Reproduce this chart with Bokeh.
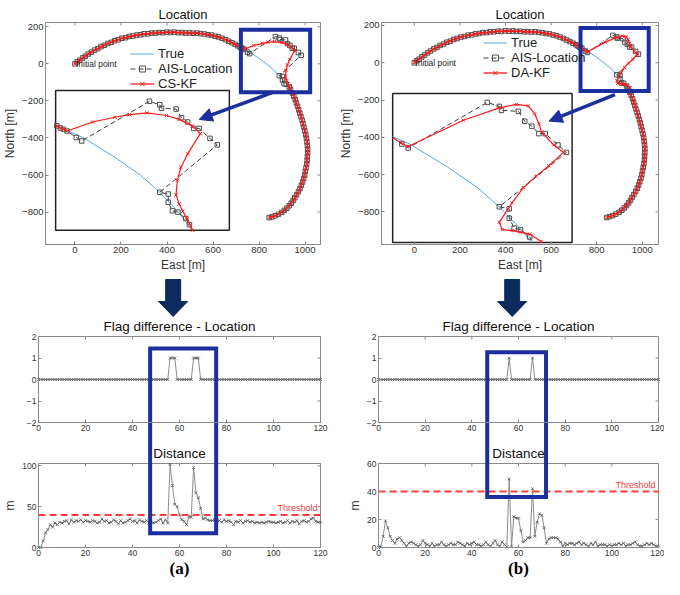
from bokeh.plotting import figure
from bokeh.layouts import column, row
from bokeh.models import (Range1d, FixedTicker, LinearAxis, Legend, LegendItem, Label,
                          Arrow, NormalHead)
from bokeh.embed import file_html
from bokeh.resources import INLINE

# ---------------------------------------------------------------- data
# True trajectory [m]
true_east = [0, 71, 173, 268, 415, 546, 654, 716, 761, 814, 856, 888, 920, 942, 967, 991,
             1010, 1004, 978, 931, 884, 844]
true_north = [0, 63, 125, 154, 170, 164, 130, 91, 63, 17, -24, -64, -112, -152, -229, -323,
              -441, -561, -673, -766, -812, -830]

# first arc (AIS and both filters lie on it)
track1_east = [0, 10, 21, 33, 45, 58, 71, 85, 99, 113, 128, 143, 158, 173, 188, 204, 220, 236,
               252, 268, 284, 300, 317, 333, 349, 366, 382, 399, 415, 432, 448, 465, 481, 497,
               514, 530, 546, 562, 578, 593, 609, 624, 639, 654, 668, 682, 696, 708, 718, 724,
               729, 735]
track1_north = [0, 11, 19, 32, 41, 53, 63, 74, 82, 93, 100, 110, 116, 125, 130, 138, 141, 148,
                150, 155, 157, 162, 162, 166, 166, 169, 168, 171, 169, 171, 168, 169, 166, 167,
                165, 166, 163, 161, 157, 155, 149, 145, 138, 130, 122, 114, 105, 97, 90, 85,
                82, 78]
# AIS anomaly (shifted positions)
ais_jump_east = [750, 759, 871, 888, 891, 915, 924, 934, 944, 953, 971, 983]
ais_jump_north = [63, 55, 147, 139, 131, 129, 109, 99, 84, 84, 61, 46]
ais_return_east = [888, 902, 902, 909, 918, 931, 937]
ais_return_north = [-64, -68, -87, -107, -110, -125, -139]
# second arc
track3_east = [945, 951, 957, 962, 967, 972, 977, 982, 987, 991, 995, 999, 1003, 1006, 1008,
               1010, 1011, 1011, 1010, 1009, 1007, 1004, 1001, 998, 994, 989, 984, 978, 971,
               963, 955, 948, 940, 931, 921, 910, 898, 884, 870, 856, 844]
track3_north = [-158, -175, -193, -211, -229, -248, -266, -285, -304, -323, -343, -362, -382,
                -402, -421, -441, -461, -481, -501, -521, -541, -561, -580, -600, -619, -638,
                -656, -673, -690, -707, -723, -738, -752, -766, -779, -791, -802, -812, -820,
                -826, -830]
# CS-KF estimate in the anomaly
cskf_jump_east = [777, 814, 838, 867, 899, 920, 942, 955, 934, 923, 917, 915, 920, 926, 932,
                  937, 942]
cskf_jump_north = [99, 110, 116, 120, 114, 105, 90, 72, 25, -6, -36, -70, -91, -108, -123,
                   -137, -152]
# DA-KF estimate in the anomaly
dakf_jump_east = [749, 759, 837, 888, 912, 929, 938, 944, 948, 965, 979, 958, 940, 922, 906,
                  888, 892, 906, 917, 931, 947]
dakf_jump_north = [65, 58, 111, 136, 143, 140, 124, 104, 87, 61, 46, 19, -2, -25, -56, -95,
                   -110, -112, -115, -119, -134]

loc_x_ticks = [0, 200, 400, 600, 800, 1000]
loc_y_ticks = [-800, -600, -400, -200, 0, 200]

steps = list(range(121))
flag_cs = [0, 0, 0, 0, 0, 0, 0, 0, 0, 0, 0, 0, 0, 0, 0, 0, 0, 0, 0, 0,
           0, 0, 0, 0, 0, 0, 0, 0, 0, 0, 0, 0, 0, 0, 0, 0, 0, 0, 0, 0,
           0, 0, 0, 0, 0, 0, 0, 0, 0, 0, 0, 0, 0, 0, 0, 0, 1, 1, 1, 0,
           0, 0, 0, 0, 0, 0, 1, 1, 1, 0, 0, 0, 0, 0, 0, 0, 0, 0, 0, 0,
           0, 0, 0, 0, 0, 0, 0, 0, 0, 0, 0, 0, 0, 0, 0, 0, 0, 0, 0, 0,
           0, 0, 0, 0, 0, 0, 0, 0, 0, 0, 0, 0, 0, 0, 0, 0, 0, 0, 0, 0, 0]
flag_da = [0, 0, 0, 0, 0, 0, 0, 0, 0, 0, 0, 0, 0, 0, 0, 0, 0, 0, 0, 0,
           0, 0, 0, 0, 0, 0, 0, 0, 0, 0, 0, 0, 0, 0, 0, 0, 0, 0, 0, 0,
           0, 0, 0, 0, 0, 0, 0, 0, 0, 0, 0, 0, 0, 0, 0, 0, 1, 0, 0, 0,
           0, 0, 0, 0, 0, 0, 1, 0, 0, 0, 0, 0, 0, 0, 0, 0, 0, 0, 0, 0,
           0, 0, 0, 0, 0, 0, 0, 0, 0, 0, 0, 0, 0, 0, 0, 0, 0, 0, 0, 0,
           0, 0, 0, 0, 0, 0, 0, 0, 0, 0, 0, 0, 0, 0, 0, 0, 0, 0, 0, 0, 0]
dist_cs = [0, 0, 8, 18, 22, 28, 25, 30, 28, 31,
           30, 32, 33, 29, 34, 31, 33, 32, 34, 31,
           33, 32, 31, 33, 32, 30, 31, 35, 32, 33,
           30, 31, 34, 32, 29, 33, 30, 31, 33, 35,
           32, 33, 30, 34, 32, 31, 33, 30, 31, 30,
           31, 33, 35, 30, 34, 30, 102, 76, 53, 50,
           40, 34, 32, 28, 38, 37, 98, 67, 61, 48,
           35, 36, 34, 33, 33, 34, 32, 33, 31, 34,
           32, 33, 31, 28, 32, 31, 33, 30, 32, 33,
           31, 32, 30, 31, 30, 31, 30, 31, 32, 31,
           31, 30, 31, 32, 30, 31, 33, 30, 32, 31,
           33, 29, 32, 33, 31, 32, 35, 36, 32, 31, 31]
dist_da = [0, 0.5, 8, 19, 14, 8, 5, 3, 6, 7,
           5, 3, 1, 3, 4, 3, 2, 1, 2, 5,
           3, 2, 1, 3, 1, 2, 2, 4, 2, 1,
           2, 3, 2, 2, 4, 3, 2, 1, 3, 2,
           3, 4, 2, 2, 1, 2, 4, 2, 1, 3,
           5, 2, 1, 4, 2, 0.5, 49, 1, 22, 21,
           21, 12, 4, 5, 7, 7, 42, 8, 18, 24,
           23, 14, 3, 6, 7, 7, 7, 6, 4, 1,
           3, 2, 3, 3, 2, 3, 4, 2, 3, 2,
           1, 3, 2, 4, 1, 2, 2, 2, 1, 2,
           1, 2, 2, 3, 2, 3, 1, 2, 2, 3,
           4, 2, 1, 1, 2, 3, 2, 3, 2, 1, 1]
threshold = 40
step_ticks = [0, 20, 40, 60, 80, 100, 120]
flag_ticks = [-2, -1, 0, 1, 2]

ais_east = track1_east + ais_jump_east + ais_return_east + track3_east
ais_north = track1_north + ais_jump_north + ais_return_north + track3_north
cskf_east = track1_east + cskf_jump_east + track3_east
cskf_north = track1_north + cskf_jump_north + track3_north
dakf_east = track1_east + dakf_jump_east + track3_east
dakf_north = track1_north + dakf_jump_north + track3_north

# ---------------------------------------------------------------- style / layout
FONT = "Liberation Sans"
AX_COL = "#8a8a8a"
TXT = "#333333"
TRUE_COL = "#55a8e0"
AIS_COL = "#3a3a3a"
AIS_MARK = "#505050"
KF_COL = "#ff1a1a"
BOX_BLUE = "#1c2f9e"
NAVY = "#0e2b5e"
SER_LINE = "#8c8c8c"
SER_MARK = "#555555"
TICK = 3

W_L, W_R = 336, 328
BORD_L = (38, 16)      # left column: frame from 38 to 320
BORD_R = (42, 6)       # right column: frame from 42 to 322 (inside its figure)
H_TOP = 276
LOC_TOP, LOC_BOT = 22, 32
H_LOW = 303
FLAG_TOP, FLAG_BOT = 60, 146
DIST_TOP, DIST_BOT = 187, 271
FLAG_TITLE_Y = 50
DIST_TITLE_Y = 177
ARROW_TOP, ARROW_BASE, ARROW_TIP = 3, 25, 40


def style_axis(ax, ticks, fsize, label=None, lsize="12px"):
    ax.ticker = FixedTicker(ticks=ticks)
    ax.major_tick_in = TICK
    ax.major_tick_out = 0
    ax.minor_tick_line_color = None
    ax.axis_line_color = AX_COL
    ax.major_tick_line_color = AX_COL
    ax.major_label_text_font = FONT
    ax.major_label_text_font_size = fsize
    ax.major_label_text_color = TXT
    ax.major_label_standoff = 2
    ax.axis_label_standoff = 2
    ax.axis_label_text_font = FONT
    ax.axis_label_text_font_style = "normal"
    ax.axis_label_text_color = TXT
    ax.axis_label_text_font_size = lsize
    if label:
        ax.axis_label = label


def edge_ticks(p, xt, yt, xr, yr, fw, fh, **kw):
    """inward tick marks along the top and right edges of a panel"""
    dy = TICK * (yr[1] - yr[0]) / fh
    dx = TICK * (xr[1] - xr[0]) / fw
    p.segment(x0=xt, x1=xt, y0=[yr[1]] * len(xt), y1=[yr[1] - dy] * len(xt),
              line_color=AX_COL, line_width=1, **kw)
    p.segment(x0=[xr[1]] * len(yt), x1=[xr[1] - dx] * len(yt), y0=yt, y1=yt,
              line_color=AX_COL, line_width=1, **kw)


def clip_polyline(xs, ys, win):
    x0, x1, y0, y1 = win
    pieces, cx, cy = [], [], []
    for i in range(len(xs) - 1):
        ax, ay, bx, by = xs[i], ys[i], xs[i + 1], ys[i + 1]
        dx, dy = bx - ax, by - ay
        t0, t1 = 0.0, 1.0
        inside = True
        for pp, qq in ((-dx, ax - x0), (dx, x1 - ax), (-dy, ay - y0), (dy, y1 - ay)):
            if pp == 0:
                if qq < 0:
                    inside = False
                    break
            else:
                r = qq / pp
                if pp < 0:
                    if r > t1:
                        inside = False
                        break
                    t0 = max(t0, r)
                else:
                    if r < t0:
                        inside = False
                        break
                    t1 = min(t1, r)
        if not inside:
            if cx:
                pieces.append((cx, cy))
                cx, cy = [], []
            continue
        if not cx or t0 > 0:
            if cx:
                pieces.append((cx, cy))
            cx, cy = [ax + t0 * dx], [ay + t0 * dy]
        cx.append(ax + t1 * dx)
        cy.append(ay + t1 * dy)
        if t1 < 1:
            pieces.append((cx, cy))
            cx, cy = [], []
    if cx:
        pieces.append((cx, cy))
    return pieces


def to_box(xs, ys, win, box):
    wx0, wx1, wy0, wy1 = win
    bx0, bx1, by0, by1 = box
    sx = (bx1 - bx0) / (wx1 - wx0)
    sy = (by1 - by0) / (wy1 - wy0)
    return [bx0 + (x - wx0) * sx for x in xs], [by0 + (y - wy0) * sy for y in ys]


def location_fig(w, bord, xr, yr, kf_e, kf_n, kf_label, win, ibox, zbox, arr, leg_loc):
    p = figure(width=w, height=H_TOP, x_range=Range1d(*xr), y_range=Range1d(*yr),
               output_backend="svg", toolbar_location=None, tools="",
               min_border_left=bord[0], min_border_right=bord[1],
               min_border_top=LOC_TOP, min_border_bottom=LOC_BOT, title="Location")
    p.grid.visible = False
    p.outline_line_color = AX_COL
    p.title.text_font = FONT
    p.title.text_font_size = "13px"
    p.title.text_font_style = "normal"
    p.title.text_color = "#111111"
    p.title.align = "center"
    p.title.standoff = 1
    style_axis(p.xaxis[0], loc_x_ticks, "9.5px", "East [m]")
    style_axis(p.yaxis[0], loc_y_ticks, "9.5px", "North [m]")
    fw = w - bord[0] - bord[1]
    fh = H_TOP - LOC_TOP - LOC_BOT
    edge_ticks(p, loc_x_ticks, loc_y_ticks, xr, yr, fw, fh)

    r_true = p.line(true_east, true_north, line_color=TRUE_COL, line_width=1)
    r_ais_l = p.line(ais_east, ais_north, line_color=AIS_COL, line_dash="5 3", line_width=1)
    r_ais_s = p.scatter(ais_east, ais_north, marker="square", size=4.5, fill_color=None,
                        line_color=AIS_MARK, line_width=1)
    r_kf_l = p.line(kf_e, kf_n, line_color=KF_COL, line_width=1.3)
    r_kf_s = p.scatter(kf_e, kf_n, marker="x", size=4.5, line_color=KF_COL, line_width=1)

    p.add_layout(Label(x=0, y=0, text="Initial point", x_offset=1, text_baseline="middle",
                       text_font=FONT, text_font_size="8.5px", text_color="#222222"))

    # inset (zoom of the anomaly)
    p.quad(left=ibox[0], right=ibox[1], bottom=ibox[2], top=ibox[3], fill_color="white",
           line_color="#222222", line_width=1.5)
    series = [(true_east, true_north, dict(line_color=TRUE_COL, line_width=1), None),
              (ais_east, ais_north, dict(line_color=AIS_COL, line_dash="5 3", line_width=1),
               dict(marker="square", size=4.5, fill_color=None, line_color=AIS_MARK)),
              (kf_e, kf_n, dict(line_color=KF_COL, line_width=1.2),
               dict(marker="x", size=4.5, line_color=KF_COL))]
    for xs, ys, lkw, mkw in series:
        mx, my = [], []
        for px_, py_ in clip_polyline(xs, ys, win):
            tx, ty = to_box(px_, py_, win, ibox)
            mx.append(tx)
            my.append(ty)
        p.multi_line(mx, my, **lkw)
        if mkw:
            pts = [(x, y) for x, y in zip(xs, ys)
                   if win[0] <= x <= win[1] and win[2] <= y <= win[3]]
            tx, ty = to_box([a for a, b in pts], [b for a, b in pts], win, ibox)
            p.scatter(tx, ty, **mkw)

    # zoom box and arrow to the inset
    p.quad(left=zbox[0], right=zbox[1], bottom=zbox[2], top=zbox[3], fill_color=None,
           line_color=BOX_BLUE, line_width=4, line_join="miter")
    p.add_layout(Arrow(end=NormalHead(size=13, fill_color=BOX_BLUE, line_color=BOX_BLUE),
                       x_start=arr[0], y_start=arr[1], x_end=arr[2], y_end=arr[3],
                       line_color=BOX_BLUE, line_width=3.5))

    leg = Legend(items=[LegendItem(label="True", renderers=[r_true]),
                        LegendItem(label="AIS-Location", renderers=[r_ais_l, r_ais_s]),
                        LegendItem(label=kf_label, renderers=[r_kf_l, r_kf_s])],
                 location=leg_loc, border_line_alpha=0, background_fill_alpha=0,
                 label_text_font=FONT, label_text_font_size="13px", label_text_color="#222222",
                 glyph_width=24, glyph_height=15, label_height=15, spacing=0, padding=0,
                 margin=0, label_standoff=4)
    p.add_layout(leg)
    return p


def lower_fig(w, bord, flags, dist, ymax, yticks, box, thr_y, tag):
    left_px, right_px = bord[0], w - bord[1]
    s = (right_px - left_px) / 120.0
    xr = (-left_px / s, 120 + (w - right_px) / s)
    s_d = (DIST_BOT - DIST_TOP) / ymax
    yr = (-(H_LOW - DIST_BOT) / s_d, ymax + DIST_TOP / s_d)
    s_f = (FLAG_BOT - FLAG_TOP) / 4.0
    fr = (-2 - (H_LOW - FLAG_BOT) / s_f, 2 + FLAG_TOP / s_f)

    def fy(r):
        return 2 + (FLAG_TOP - r) / s_f

    p = figure(width=w, height=H_LOW, x_range=Range1d(*xr), y_range=Range1d(*yr),
               x_axis_type=None, y_axis_type=None, output_backend="svg",
               toolbar_location=None, tools="", min_border=0, title=None)
    p.extra_y_ranges = {"flag": Range1d(*fr)}
    p.outline_line_color = None

    # ---- flag panel
    ax = LinearAxis(y_range_name="flag", fixed_location=-2, bounds=(0, 120))
    style_axis(ax, step_ticks, "8.5px")
    p.add_layout(ax, "below")
    ax = LinearAxis(y_range_name="flag", fixed_location=0, bounds=(-2, 2))
    style_axis(ax, flag_ticks, "8.5px")
    p.add_layout(ax, "left")
    p.quad(left=0, right=120, bottom=-2, top=2, y_range_name="flag", fill_color=None,
           line_color=AX_COL, line_width=1)
    edge_ticks(p, step_ticks, flag_ticks, (0, 120), (-2, 2), right_px - left_px,
               FLAG_BOT - FLAG_TOP, y_range_name="flag")
    p.line(steps, flags, y_range_name="flag", line_color=SER_LINE, line_width=1)
    p.scatter(steps, flags, y_range_name="flag", marker="x", size=4, line_color=SER_MARK,
              line_width=0.8)
    p.add_layout(Label(x=60, y=fy(FLAG_TITLE_Y), y_range_name="flag",
                       text="Flag difference - Location", text_align="center",
                       text_baseline="middle", text_font=FONT, text_font_size="13.5px",
                       text_color="#111111"))

    # ---- distance panel
    ax = LinearAxis(fixed_location=0, bounds=(0, 120))
    style_axis(ax, step_ticks, "8.5px")
    ax.axis_label = tag
    ax.axis_label_text_font = "Liberation Serif"
    ax.axis_label_text_font_style = "bold"
    ax.axis_label_text_font_size = "17px"
    ax.axis_label_text_color = "#000000"
    ax.axis_label_standoff = 0
    p.add_layout(ax, "below")
    ax = LinearAxis(fixed_location=0, bounds=(0, ymax))
    style_axis(ax, yticks, "8.5px", "m")
    p.add_layout(ax, "left")
    p.quad(left=0, right=120, bottom=0, top=ymax, fill_color=None, line_color=AX_COL,
           line_width=1)
    edge_ticks(p, step_ticks, yticks, (0, 120), (0, ymax), right_px - left_px,
               DIST_BOT - DIST_TOP)
    p.segment(x0=[0], x1=[120], y0=[threshold], y1=[threshold], line_color="#ff3b3b",
              line_dash="7 4", line_width=2)
    p.add_layout(Label(x=118.7, y=thr_y, text="Threshold", text_align="right",
                       text_baseline="middle", text_font=FONT, text_font_size="9px",
                       text_color="#ff3b3b"))
    p.line(steps, dist, line_color=SER_LINE, line_width=1)
    p.scatter(steps, dist, marker="x", size=4, line_color=SER_MARK, line_width=0.8)
    p.add_layout(Label(x=60, y=fy(DIST_TITLE_Y), y_range_name="flag", text="Distance",
                       text_align="center", text_baseline="middle", text_font=FONT,
                       text_font_size="13.5px", text_color="#111111"))

    # ---- highlight box spanning both panels
    bottom_f = fy(DIST_BOT - box[3] * s_d)
    p.quad(left=box[0], right=box[1], bottom=bottom_f, top=box[2], y_range_name="flag",
           fill_color=None, line_color=BOX_BLUE, line_width=4, line_join="miter")

    # ---- big down arrow coming from the location panel
    cx, hw, hh = 57.3, 3.2, 6.2
    yt, yb, ytip = fy(ARROW_TOP), fy(ARROW_BASE), fy(ARROW_TIP)
    p.patch([cx - hw, cx + hw, cx + hw, cx + hh, cx, cx - hh, cx - hw],
            [yt, yt, yb, yb, ytip, yb, yb], y_range_name="flag",
            fill_color=NAVY, line_color=NAVY, line_width=1)
    return p


loc_a = location_fig(W_L, BORD_L, (-128, 1067), (-975, 223), cskf_east, cskf_north, "CS-KF",
                     (716, 1003, -152, 172), (-84, 671, -898, -144),
                     (721, 1022, -153, 184), (862, -153, 540, -300), (85, 153))
loc_b = location_fig(W_R, BORD_R, (-144, 1071), (-975, 216), dakf_east, dakf_north, "DA-KF",
                     (737, 991, -136, 165), (-95, 692, -964, -165),
                     (729, 1028, -151, 186), (880, -171, 591, -313), (102, 164))

low_a = lower_fig(W_L, BORD_L, flag_cs, dist_cs, 103, [0, 50, 100], (47.5, 75.6, 1.44, 17.4),
                  49, "(a)")
low_b = lower_fig(W_R, BORD_R, flag_da, dist_da, 60, [0, 20, 40, 60], (46.6, 71.8, 1.27, 36),
                  45, "(b)")

layout = column(row(loc_a, loc_b), row(low_a, low_b))
open("out.html", "w").write(file_html(layout, INLINE))
